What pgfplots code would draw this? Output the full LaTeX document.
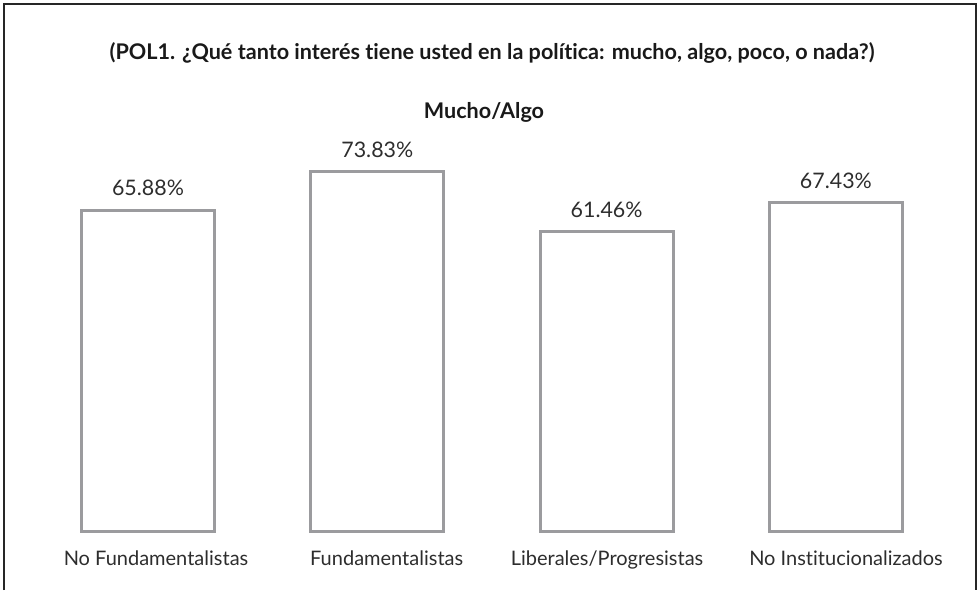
\documentclass[border=0pt]{standalone}
\usepackage{fontspec}
\setmainfont{Lato}[Ligatures={TeX,NoCommon}]
\usepackage{pgfplots}
\pgfplotsset{compat=1.18}
\definecolor{BarGray}{RGB}{155,155,158}
\definecolor{TextGray}{RGB}{45,45,45}

\begin{document}
\begin{tikzpicture}
\path[use as bounding box] (0,0) rectangle (490pt,295pt);
\draw[line width=0.8pt, black!85] (2pt,0) -- (2pt,293pt) -- (488pt,293pt) -- (488pt,0);
\begin{axis}[
    at={(2pt,29.5pt)},
    anchor=south west,
    scale only axis,
    width=486pt,
    height=263.5pt,
    xmin=-0.628, xmax=3.611,
    ymin=0, ymax=108.2,
    axis line style={draw=none},
    major tick length=0pt,
    ytick=\empty,
    xtick={0.035,1.041,2.002,3.044},
    xticklabels={No Fundamentalistas, Fundamentalistas, Liberales/Progresistas, No Institucionalizados},
    xticklabel style={font=\fontsize{10}{12}\selectfont, text=TextGray, yshift=-6.5pt},
    clip=false,
    point meta=explicit symbolic,
    nodes near coords,
    every node near coord/.append style={font=\fontsize{10.7}{12}\selectfont, text=TextGray, yshift=3pt},
]
\addplot[ybar, bar width=66.5pt, draw=BarGray, line width=1.5pt, fill=white] coordinates {
    (0,65.88) [65.88\%]
    (1,73.83) [73.83\%]
    (2,61.46) [61.46\%]
    (3,67.43) [67.43\%]
};
\end{axis}
\node[font=\bfseries\fontsize{10.8}{12}\selectfont, text=black!90] at (246pt,268.5pt)
    {(POL1. ¿Qué tanto interés tiene usted en la política: mucho, algo, poco, o nada?)};
\node[font=\bfseries\fontsize{10.8}{12}\selectfont, text=black!90] at (242pt,239pt) {Mucho/Algo};
\end{tikzpicture}
\end{document}
